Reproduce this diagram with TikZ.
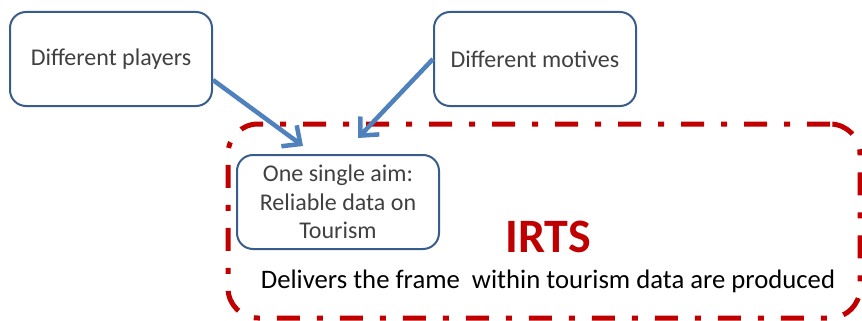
\documentclass[tikz,border=0pt]{standalone}
\usepackage{fontspec}
\setmainfont{Carlito}
\usepackage{tikz}
\usetikzlibrary{arrows.meta,positioning,calc}
\definecolor{boxblue}{RGB}{56,93,138}
\definecolor{arrblue}{RGB}{79,129,189}
\definecolor{irtsred}{RGB}{192,0,0}

\begin{document}
\begin{tikzpicture}[
  x=1pt,y=-1pt,
  box/.style={draw=boxblue,line width=2pt,rounded corners=16pt,minimum width=202pt,minimum height=94pt,align=center,
    text=black!75,font=\fontsize{24}{28.5}\selectfont},
  arr/.style={arrblue,line width=4.5pt,-{Straight Barb[length=14pt,width=26pt]}},
  frame/.style={draw=irtsred,line width=5pt,rounded corners=30pt,dash pattern=on 23pt off 17pt on 6pt off 17pt,
    minimum width=632pt,minimum height=194pt}
]
\useasboundingbox (0,0) rectangle (862,321);
\node[frame] (irts) at (544,221) {};
\node[box] (players) at (111,59) {Different players};
\node[box] (motives) at (535,59) {Different motives};
\node[box] (aim) at (338,202) {One single aim:\\Reliable data on\\Tourism};
\node[anchor=base,text=irtsred,font=\fontsize{48}{52}\selectfont\bfseries] (title) at (548,252) {IRTS};
\node[anchor=base,font=\fontsize{26.7}{30}\selectfont] (frametext) at (548,288) {Delivers the frame\ \ within tourism data are produced};
\draw[arr] ($(players.east)+(0,21)$) -- ($(aim.north)+(-35,-8)$);
\draw[arr] (motives.west) -- ($(aim.north)+(20,-16)$);
\end{tikzpicture}
\end{document}
